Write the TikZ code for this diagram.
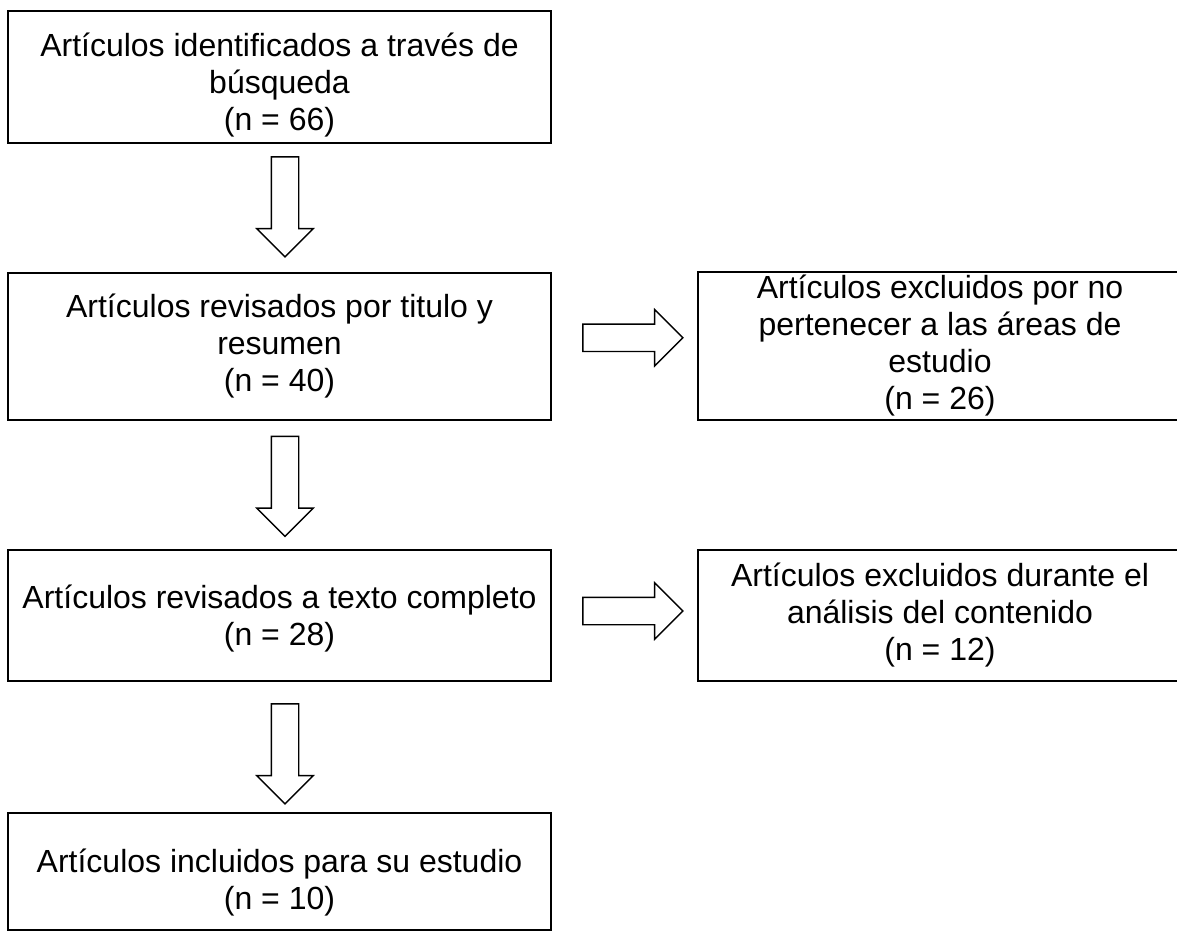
\documentclass[tikz,border=0pt]{standalone}
\usepackage{fontspec}
\setmainfont{Liberation Sans}
\usetikzlibrary{shapes.arrows}

\tikzset{
  caja/.style={draw, line width=1.7pt, inner sep=0pt, align=center,
    font=\fontsize{32}{37}\selectfont},
  flecha/.style={single arrow, draw, line width=1.4pt, inner xsep=0pt, inner ysep=13pt,
    minimum height=100pt, minimum width=55pt,
    single arrow head extend=14.5pt, single arrow tip angle=90},
}

\begin{document}
\begin{tikzpicture}[x=1pt, y=-1pt]
\useasboundingbox (0,0) rectangle (1177,936);

\node[caja, minimum width=543pt, minimum height=132pt] (b1) at (279.5,77)
  {\rule{0pt}{40pt}Artículos identificados a través de\\búsqueda\\(n = 66)};
\node[caja, minimum width=543pt, minimum height=147pt] (b2) at (279.5,346.5)
  {Artículos revisados por titulo y\\resumen\\(n = 40)};
\node[caja, minimum width=543pt, minimum height=131pt] (b3) at (279.5,615.5)
  {\rule{0pt}{30pt}Artículos revisados a texto completo\\(n = 28)};
\node[caja, minimum width=543pt, minimum height=117pt] (b4) at (279.5,871.5)
  {\rule{0pt}{45pt}Artículos incluidos para su estudio\\(n = 10)};

\node[caja, minimum width=484pt, minimum height=148pt] (r2) at (940,346)
  {Artículos excluidos por no\\pertenecer a las áreas de\\estudio\\(n = 26)};
\node[caja, minimum width=484pt, minimum height=131pt] (r3) at (940,615.5)
  {Artículos excluidos durante el\\análisis del contenido\\(n = 12)};

\path (b1.south) -- (b2.north) node[midway, flecha, rotate=-90, xshift=-8pt, yshift=5.5pt] {};
\path (b2.south) -- (b3.north) node[midway, flecha, rotate=-90, xshift=-5.5pt, yshift=5.5pt] {};
\path (b3.south) -- (b4.north) node[midway, flecha, rotate=-90, xshift=0pt, yshift=5.5pt] {};

\path (b2.east) -- (r2.west) node[midway, flecha, xshift=1.5pt, yshift=8.5pt] {};
\path (b3.east) -- (r3.west) node[midway, flecha, xshift=1.5pt, yshift=4.5pt] {};

\end{tikzpicture}
\end{document}
